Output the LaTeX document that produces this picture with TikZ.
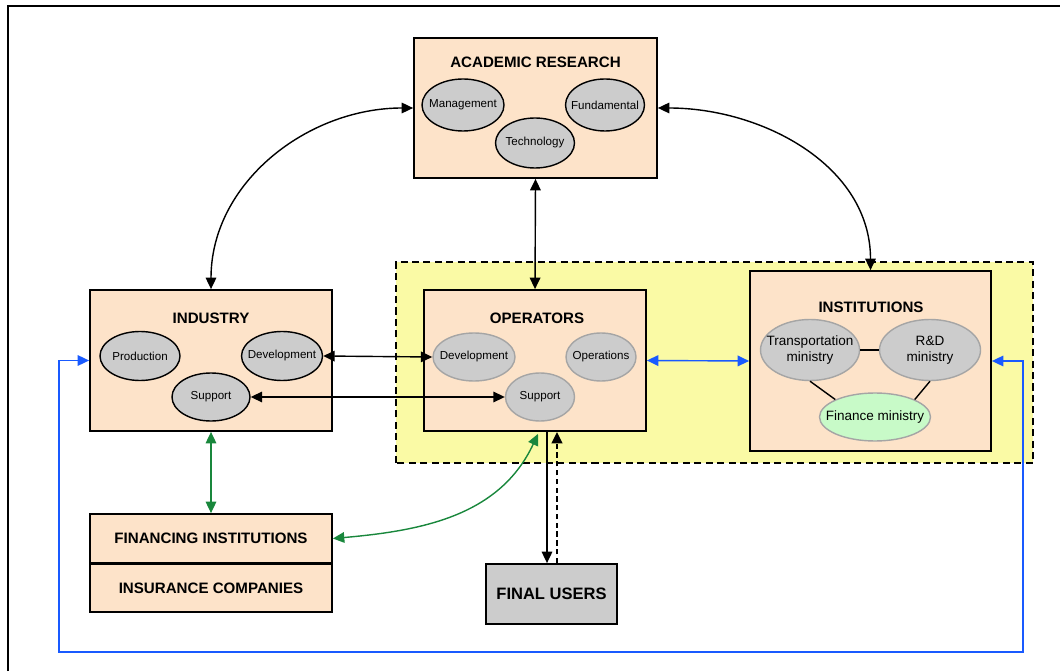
\documentclass[tikz,border=0pt]{standalone}
\usepackage{fontspec}
\setmainfont{Liberation Sans}
\usetikzlibrary{shapes.geometric,arrows.meta}
\definecolor{peach}{RGB}{253,227,201}
\definecolor{zone}{RGB}{250,250,165}
\definecolor{ovalgray}{RGB}{204,204,204}
\definecolor{ovalline}{RGB}{165,165,165}
\definecolor{mint}{RGB}{200,250,200}
\definecolor{linkblue}{RGB}{25,90,255}
\definecolor{linkgreen}{RGB}{25,135,60}

\begin{document}
\begin{tikzpicture}[
  >={Triangle[length=6.5pt,width=6pt]},
  box/.style={draw, line width=1pt, fill=peach, inner sep=0pt},
  ttl/.style={font=\fontsize{8.6}{10}\selectfont\bfseries},
  oval/.style={ellipse, draw, line width=0.8pt, fill=ovalgray, inner xsep=-6pt, inner ysep=0pt,
    font=\fontsize{6.6}{7.5}\selectfont},
  ovalg/.style={oval, draw=ovalline},
  link/.style={line width=0.8pt},
  blink/.style={link, draw=linkblue},
  glink/.style={link, draw=linkgreen}
]
\useasboundingbox (0,0) rectangle (21.2,13.42);
\draw[line width=1.1pt] (0.16,0) -- (0.16,13.3) -- (21.2,13.3);
% shared zone
\draw[fill=zone, line width=1.4pt, dash pattern=on 4pt off 2.5pt] (7.92,4.16) rectangle (20.66,8.18);

\node[box, minimum width=4.86cm, minimum height=2.8cm] (acad) at (10.71,11.26) {};
\node[ttl] (acadT) at (10.71,12.18) {ACADEMIC RESEARCH};
\node[oval, minimum width=1.64cm, minimum height=1.04cm] (acadM) at (9.26,11.32) {Management};
\node[oval, minimum width=1.58cm, minimum height=1.04cm] (acadF) at (12.10,11.32) {Fundamental};
\node[oval, minimum width=1.58cm, minimum height=1.0cm] (acadT2) at (10.70,10.56) {Technology};

\node[box, minimum width=4.84cm, minimum height=2.82cm] (ind) at (4.22,6.21) {};
\node[ttl] (indT) at (4.22,7.06) {INDUSTRY};
\node[oval, minimum width=1.6cm, minimum height=0.98cm] (indP) at (2.80,6.30) {Production};
\node[oval, minimum width=1.62cm, minimum height=0.98cm] (indD) at (5.64,6.30) {Development};
\node[oval, minimum width=1.56cm, minimum height=0.96cm] (indS) at (4.22,5.48) {Support};

\node[box, minimum width=4.44cm, minimum height=2.82cm] (ops) at (10.70,6.21) {};
\node[ttl] (opsT) at (10.74,7.06) {OPERATORS};
\node[ovalg, minimum width=1.64cm, minimum height=0.96cm] (opsD) at (9.48,6.28) {Development};
\node[ovalg, minimum width=1.4cm, minimum height=0.96cm] (opsO) at (12.02,6.28) {Operations};
\node[ovalg, minimum width=1.38cm, minimum height=0.96cm] (opsS) at (10.80,5.48) {Support};

\node[box, minimum width=4.82cm, minimum height=3.6cm] (inst) at (17.41,6.2) {};
\node[ttl] (instT) at (17.42,7.28) {INSTITUTIONS};
\node[ovalg, minimum width=1.98cm, minimum height=1.22cm, align=center,
  font=\fontsize{7.7}{8.8}\selectfont] (trans) at (16.2,6.42) {Transportation\\ministry};
\node[ovalg, minimum width=2.02cm, minimum height=1.22cm, align=center,
  font=\fontsize{7.7}{8.8}\selectfont] (rd) at (18.6,6.42) {R\&D\\ministry};
\node[ovalg, fill=mint, minimum width=2.22cm, minimum height=0.96cm,
  font=\fontsize{7.7}{8.8}\selectfont] (fin) at (17.5,5.08) {Finance ministry};

\node[box, ttl, minimum width=4.84cm, minimum height=0.98cm] (finb) at (4.22,2.65) {FINANCING INSTITUTIONS};
\node[box, ttl, minimum width=4.84cm, minimum height=0.96cm] (insb) at (4.22,1.66) {INSURANCE COMPANIES};
\node[box, fill=ovalgray, minimum width=2.62cm, minimum height=1.2cm,
  font=\fontsize{9.4}{11}\selectfont\bfseries] (users) at (11.03,1.54) {FINAL USERS};

\coordinate (loopL) at (1.18,0.38);
\coordinate (loopR) at (20.46,0.38);
\coordinate (gtop) at ([xshift=0.06cm,yshift=-0.04cm]ops.south);

\draw[link,<->] (acad.west) to[out=180,in=90] (ind.north);
\draw[link,<->] (acad.east) to[out=0,in=90] (inst.north);
\draw[link,<->] (acad.south) -- (ops.north);
\draw[link,<->] (indD.east) -- (opsD.west);
\draw[link,<->] (indS.east) -- (opsS.west);
\draw[link] (trans.east) -- (rd.west);
\draw[link] (trans.south) -- (fin.north west);
\draw[link] (rd.south) -- (fin.north east);
\draw[glink,<->] (ind.south) -- (finb.north);
\draw[glink,<->] (finb.east) to[out=5,in=-115] (gtop);
\draw[blink,<->] (ops.east) -- (inst.west);
\draw[blink,<->] (ind.west) -| (loopL) -- (loopR) |- (inst.east);
\draw[link,->] ([xshift=0.24cm]ops.south) -- ([xshift=0.24cm]ops.south |- users.north);
\draw[line width=1.2pt,dash pattern=on 3pt off 2pt,->] ([xshift=0.44cm]ops.south |- users.north) -- ([xshift=0.44cm]ops.south);
\end{tikzpicture}
\end{document}
